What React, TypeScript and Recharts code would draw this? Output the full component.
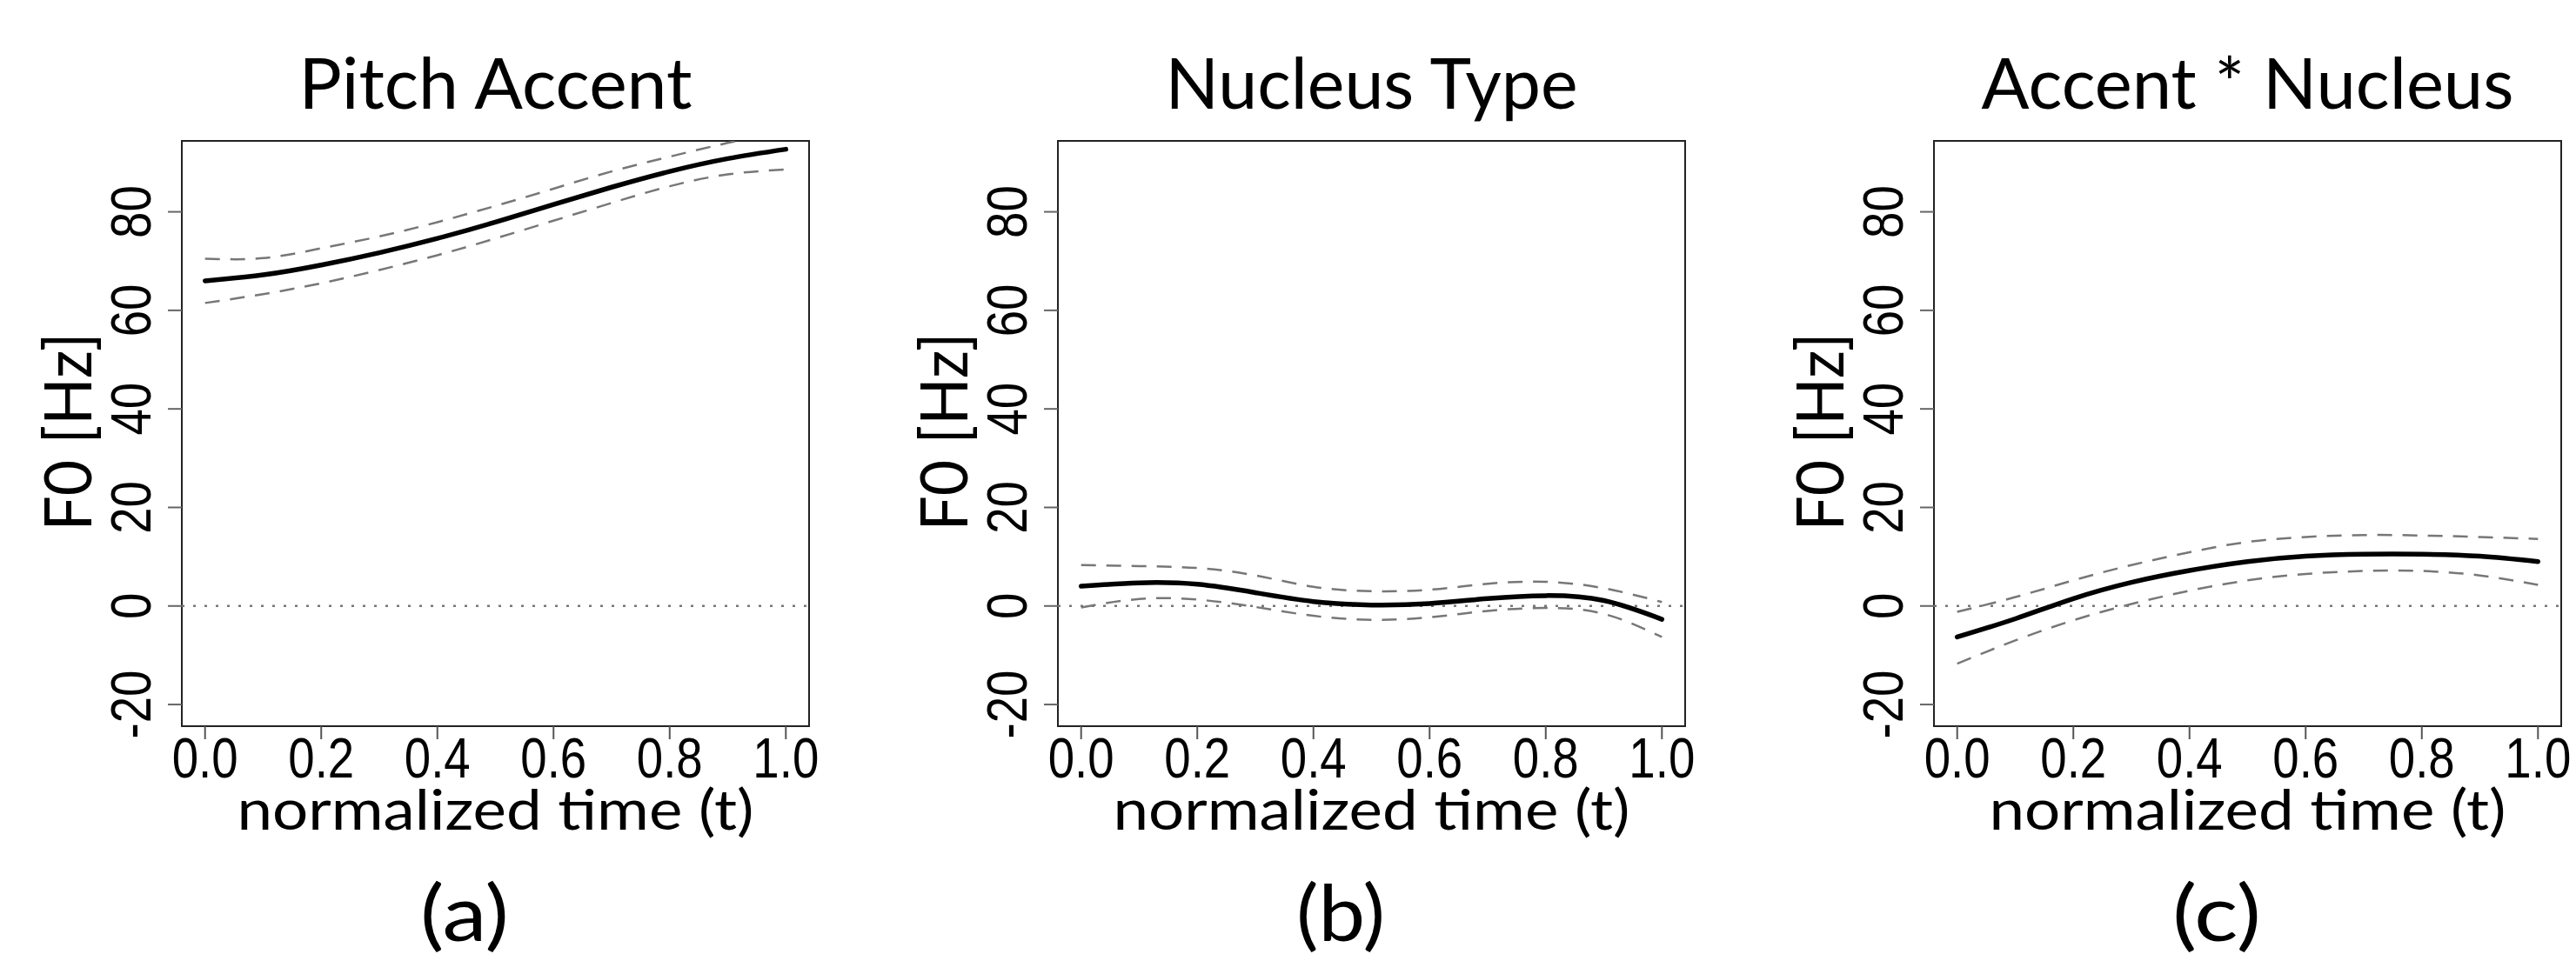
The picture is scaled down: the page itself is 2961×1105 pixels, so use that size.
import React from "react";
import { LineChart, Line, XAxis, YAxis, ReferenceLine, ReferenceArea } from "recharts";

// ---------- data ----------
const timePoints = [0, 0.1, 0.2, 0.3, 0.4, 0.5, 0.6, 0.7, 0.8, 0.9, 1.0];

const pitchFit = [66.0, 67.2, 69.2, 71.7, 74.6, 77.9, 81.5, 85.0, 88.2, 90.8, 92.7];
const pitchUpper = [70.5, 70.6, 72.6, 75.0, 77.9, 81.2, 84.7, 88.2, 91.2, 94.0, 96.5];
const pitchLower = [61.5, 63.3, 65.5, 68.2, 71.2, 74.6, 78.2, 81.8, 85.2, 87.6, 88.6];

const nucleusFit = [4.0, 4.7, 4.4, 2.7, 0.9, 0.2, 0.5, 1.5, 2.1, 1.1, -2.7];
const nucleusUpper = [8.3, 8.1, 7.7, 6.2, 3.9, 3.0, 3.3, 4.5, 4.9, 3.6, 0.8];
const nucleusLower = [-0.3, 1.4, 1.3, -0.2, -2.0, -2.8, -2.3, -1.0, -0.4, -1.6, -6.3];

const interFit = [-6.3, -2.6, 1.5, 4.8, 7.2, 9.0, 10.1, 10.5, 10.5, 10.1, 9.0];
const interUpper = [-1.2, 1.8, 5.2, 8.3, 10.9, 13.0, 14.0, 14.4, 14.3, 14.0, 13.6];
const interLower = [-11.7, -7.0, -2.9, 0.4, 3.1, 5.2, 6.5, 7.1, 7.1, 6.2, 4.3];

const titles = ["Pitch Accent", "Nucleus Type", "Accent * Nucleus"];
const panelTags = ["(a)", "(b)", "(c)"];
const xTickValues = [0, 0.2, 0.4, 0.6, 0.8, 1.0];
const xTickLabels = ["0.0", "0.2", "0.4", "0.6", "0.8", "1.0"];
const yTickValues = [-20, 0, 20, 40, 60, 80];
const yTickLabels = ["-20", "0", "20", "40", "60", "80"];
const xAxisTitle = "normalized time (t)";
const yAxisTitle = "F0 [Hz]";

// ---------- layout / style ----------
const W = 2961;
const H = 1105;
const PANEL_STEP = 1007;
const CHART_W = 1000;
const PLOT_LEFT = 209;
const PLOT_RIGHT = 930;
const PLOT_TOP = 162;
const PLOT_BOTTOM = 835;
const X_DOMAIN: [number, number] = [-0.04, 1.04];
const Y_DOMAIN: [number, number] = [-24.4, 94.4];
const TICK_FONT = "'Liberation Sans', Arial, sans-serif";
const TEXT_FONT = "Lato, 'Noto Sans', sans-serif";
const TICK_SIZE = 65;

const charW = (c: string) => (c === "." ? 0.278 : c === "-" ? 0.333 : 0.556);
const tickLen = (s: string) =>
  s.split("").reduce((a, c) => a + charW(c), 0) * TICK_SIZE * 0.84;

const buildData = (fit: number[], hi: number[], lo: number[]) =>
  timePoints.map((t, i) => ({ t, fit: fit[i], hi: hi[i], lo: lo[i] }));

const panels = [
  buildData(pitchFit, pitchUpper, pitchLower),
  buildData(nucleusFit, nucleusUpper, nucleusLower),
  buildData(interFit, interUpper, interLower),
];

const XTick = (props: any) => {
  const { x, payload } = props;
  const i = xTickValues.indexOf(payload.value);
  const label = i >= 0 ? xTickLabels[i] : String(payload.value);
  return (
    <text
      x={x}
      y={894}
      textAnchor="middle"
      fontFamily={TICK_FONT}
      fontSize={TICK_SIZE}
      fill="#000"
      textLength={tickLen(label)}
      lengthAdjust="spacingAndGlyphs"
    >
      {label}
    </text>
  );
};

const YTick = (props: any) => {
  const { y, payload } = props;
  const i = yTickValues.indexOf(payload.value);
  const label = i >= 0 ? yTickLabels[i] : String(payload.value);
  const bx = 173;
  return (
    <text
      x={bx}
      y={y}
      transform={`rotate(-90, ${bx}, ${y})`}
      textAnchor="middle"
      fontFamily={TICK_FONT}
      fontSize={TICK_SIZE}
      fill="#000"
      textLength={tickLen(label)}
      lengthAdjust="spacingAndGlyphs"
    >
      {label}
    </text>
  );
};

const Panel = ({ data }: { data: any[] }) => (
  <LineChart
    width={CHART_W}
    height={H}
    data={data}
    margin={{ top: PLOT_TOP, right: CHART_W - PLOT_RIGHT, bottom: 0, left: 0 }}
  >
    <XAxis
      type="number"
      dataKey="t"
      domain={X_DOMAIN}
      allowDataOverflow
      ticks={xTickValues}
      interval={0}
      height={H - PLOT_BOTTOM}
      tickSize={15}
      axisLine={false}
      tickLine={{ stroke: "#555", strokeWidth: 2 }}
      tick={(p: any) => <XTick {...p} />}
    />
    <YAxis
      type="number"
      domain={Y_DOMAIN}
      allowDataOverflow
      ticks={yTickValues}
      interval={0}
      width={PLOT_LEFT}
      tickSize={16}
      axisLine={false}
      tickLine={{ stroke: "#666", strokeWidth: 2 }}
      tick={(p: any) => <YTick {...p} />}
    />
    <ReferenceArea
      x1={X_DOMAIN[0]}
      x2={X_DOMAIN[1]}
      y1={Y_DOMAIN[0]}
      y2={Y_DOMAIN[1]}
      fill="none"
      fillOpacity={0}
      stroke="#222"
      strokeWidth={2}
      ifOverflow="visible"
    />
    <ReferenceLine y={0} stroke="#777" strokeWidth={2.5} strokeDasharray="3 10" />
    <Line
      dataKey="hi"
      type="natural"
      stroke="#777"
      strokeWidth={2.5}
      strokeDasharray="17 12"
      dot={false}
      isAnimationActive={false}
    />
    <Line
      dataKey="lo"
      type="natural"
      stroke="#777"
      strokeWidth={2.5}
      strokeDasharray="17 12"
      dot={false}
      isAnimationActive={false}
    />
    <Line
      dataKey="fit"
      type="natural"
      stroke="#000"
      strokeWidth={5.5}
      strokeLinecap="round"
      dot={false}
      isAnimationActive={false}
    />
  </LineChart>
);

const titleWidths = [452, 474, 612];

export default function App() {
  const plotCenter = (PLOT_LEFT + PLOT_RIGHT) / 2;
  const plotMidY = (PLOT_TOP + PLOT_BOTTOM) / 2;
  return (
    <div
      style={{
        position: "absolute",
        left: 0,
        top: 0,
        width: W,
        height: H,
        background: "#fff",
        overflow: "hidden",
      }}
    >
      {panels.map((d, i) => (
        <div key={i} style={{ position: "absolute", left: i * PANEL_STEP, top: 0 }}>
          <Panel data={d} />
        </div>
      ))}
      <svg
        width={W}
        height={H}
        style={{ position: "absolute", left: 0, top: 0, pointerEvents: "none" }}
      >
        {titles.map((t, i) => {
          const off = i * PANEL_STEP;
          return (
            <g key={i}>
              <text
                x={off + plotCenter}
                y={125}
                textAnchor="middle"
                fontFamily={TEXT_FONT}
                fontSize={82}
                fill="#000"
                textLength={titleWidths[i]}
                lengthAdjust="spacingAndGlyphs"
              >
                {t}
              </text>
              <text
                x={off + plotCenter}
                y={954}
                textAnchor="middle"
                fontFamily={TEXT_FONT}
                fontSize={64}
                fill="#000"
                textLength={594}
                lengthAdjust="spacingAndGlyphs"
              >
                {xAxisTitle}
              </text>
              <text
                x={off + 105}
                y={plotMidY - 2}
                transform={`rotate(-90, ${off + 105}, ${plotMidY - 2})`}
                textAnchor="middle"
                fontFamily={TEXT_FONT}
                fontSize={76}
                fill="#000"
                textLength={228}
                lengthAdjust="spacingAndGlyphs"
              >
                {yAxisTitle}
              </text>
              <text
                x={off + 534}
                y={1082}
                textAnchor="middle"
                fontFamily={TEXT_FONT}
                fontSize={90}
                fill="#000"
                textLength={102}
                lengthAdjust="spacingAndGlyphs"
              >
                {panelTags[i]}
              </text>
            </g>
          );
        })}
      </svg>
    </div>
  );
}
